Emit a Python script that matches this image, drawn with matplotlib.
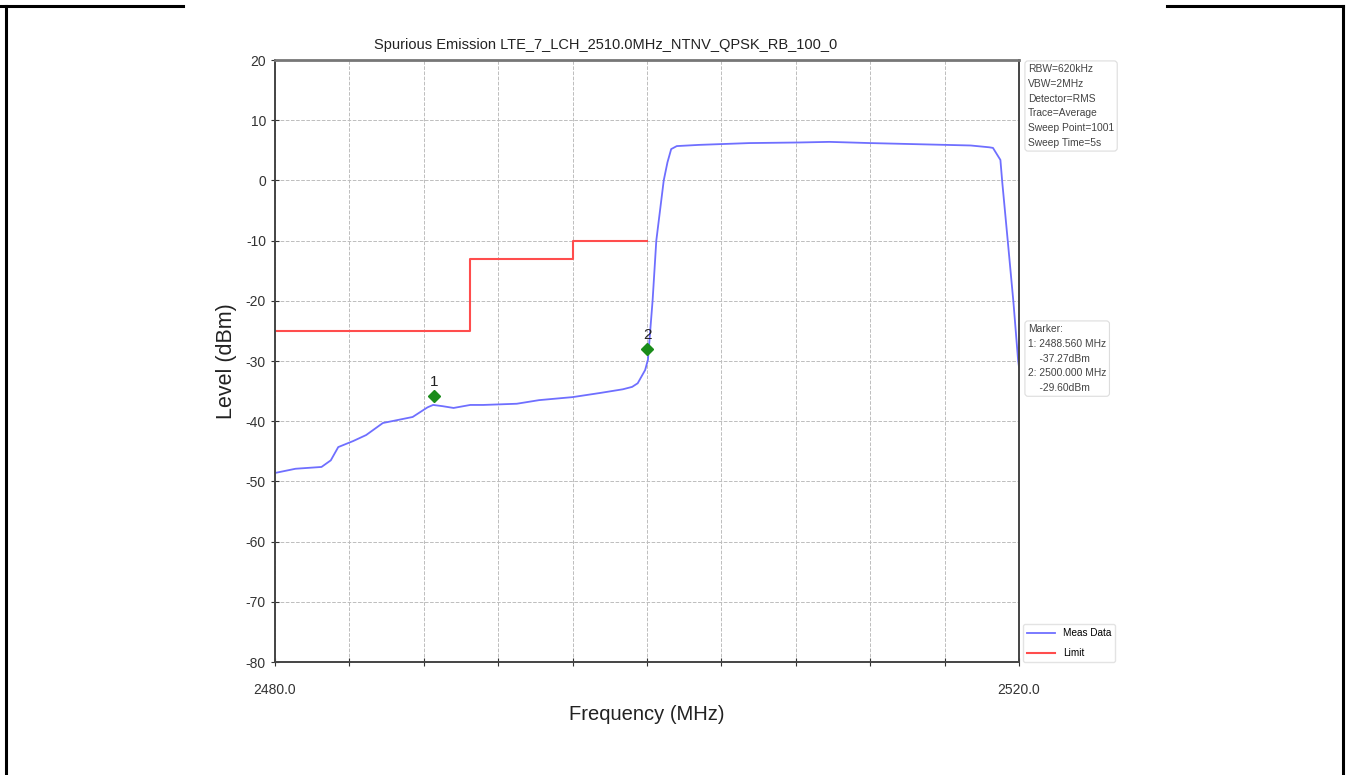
import matplotlib
matplotlib.use("Agg")
import matplotlib.pyplot as plt
from matplotlib.lines import Line2D

plt.rcParams['font.family'] = ['Liberation Sans', 'DejaVu Sans']
plt.rcParams['axes.unicode_minus'] = False

# ---------------- data ----------------
meas_freq = [2480.0, 2481.1, 2482.5, 2483.0, 2483.4, 2484.2, 2484.9, 2485.8, 2486.6,
             2487.4, 2488.2, 2488.5, 2489.0, 2489.6, 2490.5, 2491.2, 2493.0, 2494.2,
             2496.0, 2497.5, 2498.7, 2499.2, 2499.5, 2499.9, 2500.05, 2500.3, 2500.5,
             2500.9, 2501.1, 2501.3, 2501.6, 2502.8, 2505.5, 2508.2, 2509.8, 2512.0,
             2514.7, 2517.4, 2518.4, 2518.6, 2519.0, 2519.1, 2519.4, 2519.7, 2519.95, 2520.0]
meas_level = [-48.6, -47.9, -47.6, -46.5, -44.3, -43.3, -42.3, -40.3, -39.8,
              -39.3, -37.7, -37.3, -37.5, -37.8, -37.3, -37.3, -37.1, -36.5,
              -36.0, -35.3, -34.7, -34.3, -33.7, -31.5, -29.8, -20.0, -10.0,
              0.0, 3.0, 5.2, 5.7, 5.9, 6.2, 6.3, 6.4, 6.2,
              6.0, 5.8, 5.5, 5.4, 3.4, -0.3, -10.2, -20.2, -29.8, -31.0]

limit_freq = [2480.0, 2490.5, 2490.5, 2496.0, 2496.0, 2500.0]
limit_level = [-25, -25, -13, -13, -10, -10]

marker_freq = [2488.56, 2500.0]
marker_plot_level = [-35.8, -28.0]
marker_names = ["1", "2"]

x_ticks = [2480, 2484, 2488, 2492, 2496, 2500, 2504, 2508, 2512, 2516, 2520]
x_tick_labels = ["2480.0", "", "", "", "", "", "", "", "", "", "2520.0"]
y_ticks = list(range(-80, 21, 10))

info_text = ("RBW=620kHz\nVBW=2MHz\nDetector=RMS\nTrace=Average\n"
             "Sweep Point=1001\nSweep Time=5s")
marker_text = ("Marker:\n1: 2488.560 MHz\n    -37.27dBm\n2: 2500.000 MHz\n    -29.60dBm")

# ---------------- plot ----------------
W, H = 1346, 775
fig = plt.figure(figsize=(W / 100, H / 100), dpi=100)
ax = fig.add_axes([275 / W, 1 - 662 / H, (1019 - 275) / W, (662 - 60) / H])

ax.plot(meas_freq, meas_level, color="#6f6fff", linewidth=1.3, label="Meas Data")
ax.plot(limit_freq, limit_level, color="#ff4d4d", linewidth=1.5, label="Limit")
ax.plot(marker_freq, marker_plot_level, linestyle="none", marker="D",
        color="#1a8c1a", markersize=6.5)
for f, lv, name in zip(marker_freq, marker_plot_level, marker_names):
    ax.text(f, lv + 1.1, name, ha="center", va="bottom", fontsize=11, color="#222222")

ax.set_xlim(2480, 2520)
ax.set_ylim(-80, 20)
ax.set_xticks(x_ticks)
ax.set_xticklabels(x_tick_labels, fontsize=10)
ax.set_yticks(y_ticks)
ax.tick_params(axis="y", labelsize=10, direction="inout", length=6, colors="#333333")
ax.tick_params(axis="x", direction="inout", length=6, colors="#333333", pad=12)
ax.grid(True, color="#bdbdbd", linestyle="--", linewidth=0.7)
for s in ax.spines.values():
    s.set_color("#444444")
    s.set_linewidth(1.4)
ax.spines["top"].set_color("#777777")
ax.spines["top"].set_linewidth(2)

ax.set_title("Spurious Emission LTE_7_LCH_2510.0MHz_NTNV_QPSK_RB_100_0",
             fontsize=10.5, color="#222222", pad=8, x=0.445)
ax.set_xlabel("Frequency (MHz)", fontsize=14.5, color="#222222", labelpad=6)
ax.set_ylabel("Level (dBm)", fontsize=15.5, color="#222222", labelpad=6)

box = dict(boxstyle="round,pad=0.3", facecolor="white", edgecolor="#dddddd", linewidth=0.8)
fig.text(1028 / W, 1 - 64 / H, info_text, fontsize=7.4, color="#444444",
         va="top", ha="left", linespacing=1.6, bbox=box)
fig.text(1028 / W, 1 - 324 / H, marker_text, fontsize=7.4, color="#444444",
         va="top", ha="left", linespacing=1.6, bbox=box)

ax.legend(loc="lower left", bbox_to_anchor=(1.005, 0.0), fontsize=7.2,
          frameon=True, edgecolor="#dddddd", fancybox=True, handlelength=2.8,
          labelspacing=1.0, borderaxespad=0.0)

# outer frame
lw = 2.2
fig.add_artist(Line2D([6 / W, 6 / W], [0, 1 - 6 / H], color="black", linewidth=lw))
fig.add_artist(Line2D([0, 183 / W], [1 - 6 / H, 1 - 6 / H], color="black", linewidth=lw))
fig.add_artist(Line2D([1167 / W, 1343 / W], [1 - 6 / H, 1 - 6 / H], color="black", linewidth=lw))
fig.add_artist(Line2D([1343 / W, 1343 / W], [0, 1 - 6 / H], color="black", linewidth=lw))

fig.savefig("out.png", dpi=100)
